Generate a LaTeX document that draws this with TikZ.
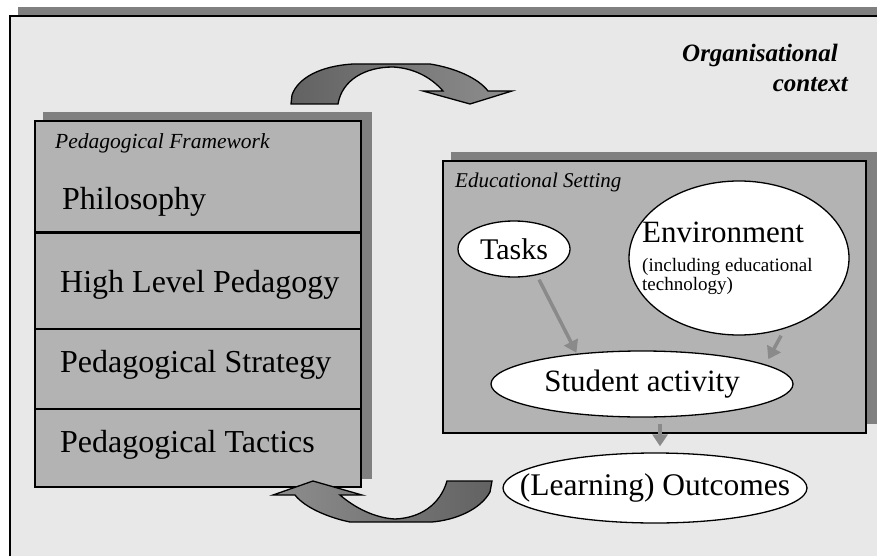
\documentclass[tikz,border=0pt]{standalone}
\usepackage{fontspec}
\setmainfont{Liberation Serif}
\usetikzlibrary{arrows.meta,shapes.geometric}
\definecolor{framegray}{HTML}{E8E8E8}
\definecolor{shadowgray}{HTML}{808080}
\definecolor{boxgray}{HTML}{B3B3B3}
\definecolor{flowgray}{HTML}{8A8A8A}
\definecolor{swingdark}{HTML}{626262}
\definecolor{swinglight}{HTML}{8E8E8E}
\begin{document}
\begin{tikzpicture}[x=1pt,y=-1pt,
  panel/.style={draw=black,line width=1.6,fill=boxgray},
  bubble/.style={ellipse,draw=black,line width=1.3,fill=white},
  flow/.style={draw=flowgray,line width=3.5,-{Triangle[width=15pt,length=12pt]}},
  swing/.style={draw=black,line width=1.3}]
\tikzstyle{every node}+=[inner sep=0pt]
\useasboundingbox (0,0) rectangle (877,556);
\clip (0,0) rectangle (877,556);
\fill [shadowgray] (18,7) rectangle (890,570);
\draw [black,line width=1.6,fill=framegray] (10,16) rectangle (890,570);
\node [anchor=base east,font=\fontsize{25}{25}\selectfont\bfseries\itshape] (orgname) at (838,62) {Organisational};
\node [anchor=base east,font=\fontsize{25}{25}\selectfont\bfseries\itshape] (orgcontext) at (848,92) {context};
\shadedraw [swing,left color=swingdark,right color=swinglight] (291,104) -- (292,95) .. controls (298,78) and (320,66) .. (353,64) -- (430,64) .. controls (455,68) and (478,78) .. (488,91) -- (512,91) -- (470,104) -- (423,91) -- (443,91) .. controls (430,76) and (412,68) .. (393,67) .. controls (365,67) and (342,80) .. (338,104) -- cycle;
\fill [shadowgray] (43,112) rectangle (372,479);
\draw [panel] (35,121) rectangle (361,487);
\draw [black,line width=3] (35,232) -- (361,232);
\draw [black,line width=1.6] (35,329) -- (361,329);
\draw [black,line width=1.6] (35,409) -- (361,409);
\node [anchor=base west,font=\fontsize{21.5}{21.5}\selectfont\itshape] (frameworklabel) at (55,149) {Pedagogical Framework};
\node [anchor=base west,font=\fontsize{32}{32}\selectfont] (philosophy) at (62,209) {Philosophy};
\node [anchor=base west,font=\fontsize{32}{32}\selectfont] (highlevel) at (60,292) {High Level Pedagogy};
\node [anchor=base west,font=\fontsize{32}{32}\selectfont] (strategy) at (60,372) {Pedagogical Strategy};
\node [anchor=base west,font=\fontsize{32}{32}\selectfont] (tactics) at (60,452) {Pedagogical Tactics};
\shadedraw [swing,left color=swinglight,right color=swingdark] (492,481) -- (490,492) .. controls (480,510) and (455,520) .. (432,522) -- (350,522) .. controls (330,518) and (305,508) .. (295,495) -- (273,495) -- (313,481) -- (362,495) -- (340,495) .. controls (355,508) and (375,518) .. (395,519) .. controls (420,518) and (440,505) .. (447,481) -- cycle;
\fill [shadowgray] (451,152) rectangle (877,424);
\draw [panel] (443,161) rectangle (866,433);
\node [anchor=base west,font=\fontsize{21}{21}\selectfont\itshape] (settinglabel) at (455,187) {Educational Setting};
\node [bubble,minimum width=112,minimum height=56,font=\fontsize{30}{30}\selectfont] (tasks) at (514,249) {Tasks};
\node [bubble,minimum width=220,minimum height=154] (environment) at (739,258) {};
\node [anchor=west,align=left,font=\fontsize{19}{19}\selectfont] (envtext) at (642,258) {{\fontsize{31}{31}\selectfont Environment}\\[10pt](including educational\\technology)};
\node [bubble,minimum width=302,minimum height=66,inner xsep=-30pt,font=\fontsize{31}{31}\selectfont] (student) at (642,384) {Student activity};
\node [bubble,minimum width=304,minimum height=70,inner xsep=-60pt,font=\fontsize{31.5}{31.5}\selectfont] (outcomes) at (655,488) {(Learning) Outcomes};
\draw [flow,shorten <=5pt,shorten >=1pt] (tasks.-49) -- (student.155);
\draw [flow,shorten <=8pt,shorten >=6pt] (environment.-57) -- (student.9);
\draw [flow,shorten <=6pt,shorten >=6pt] ([xshift=18pt]student.south) -- ([xshift=18pt]student.south |- outcomes.north);
\end{tikzpicture}
\end{document}
